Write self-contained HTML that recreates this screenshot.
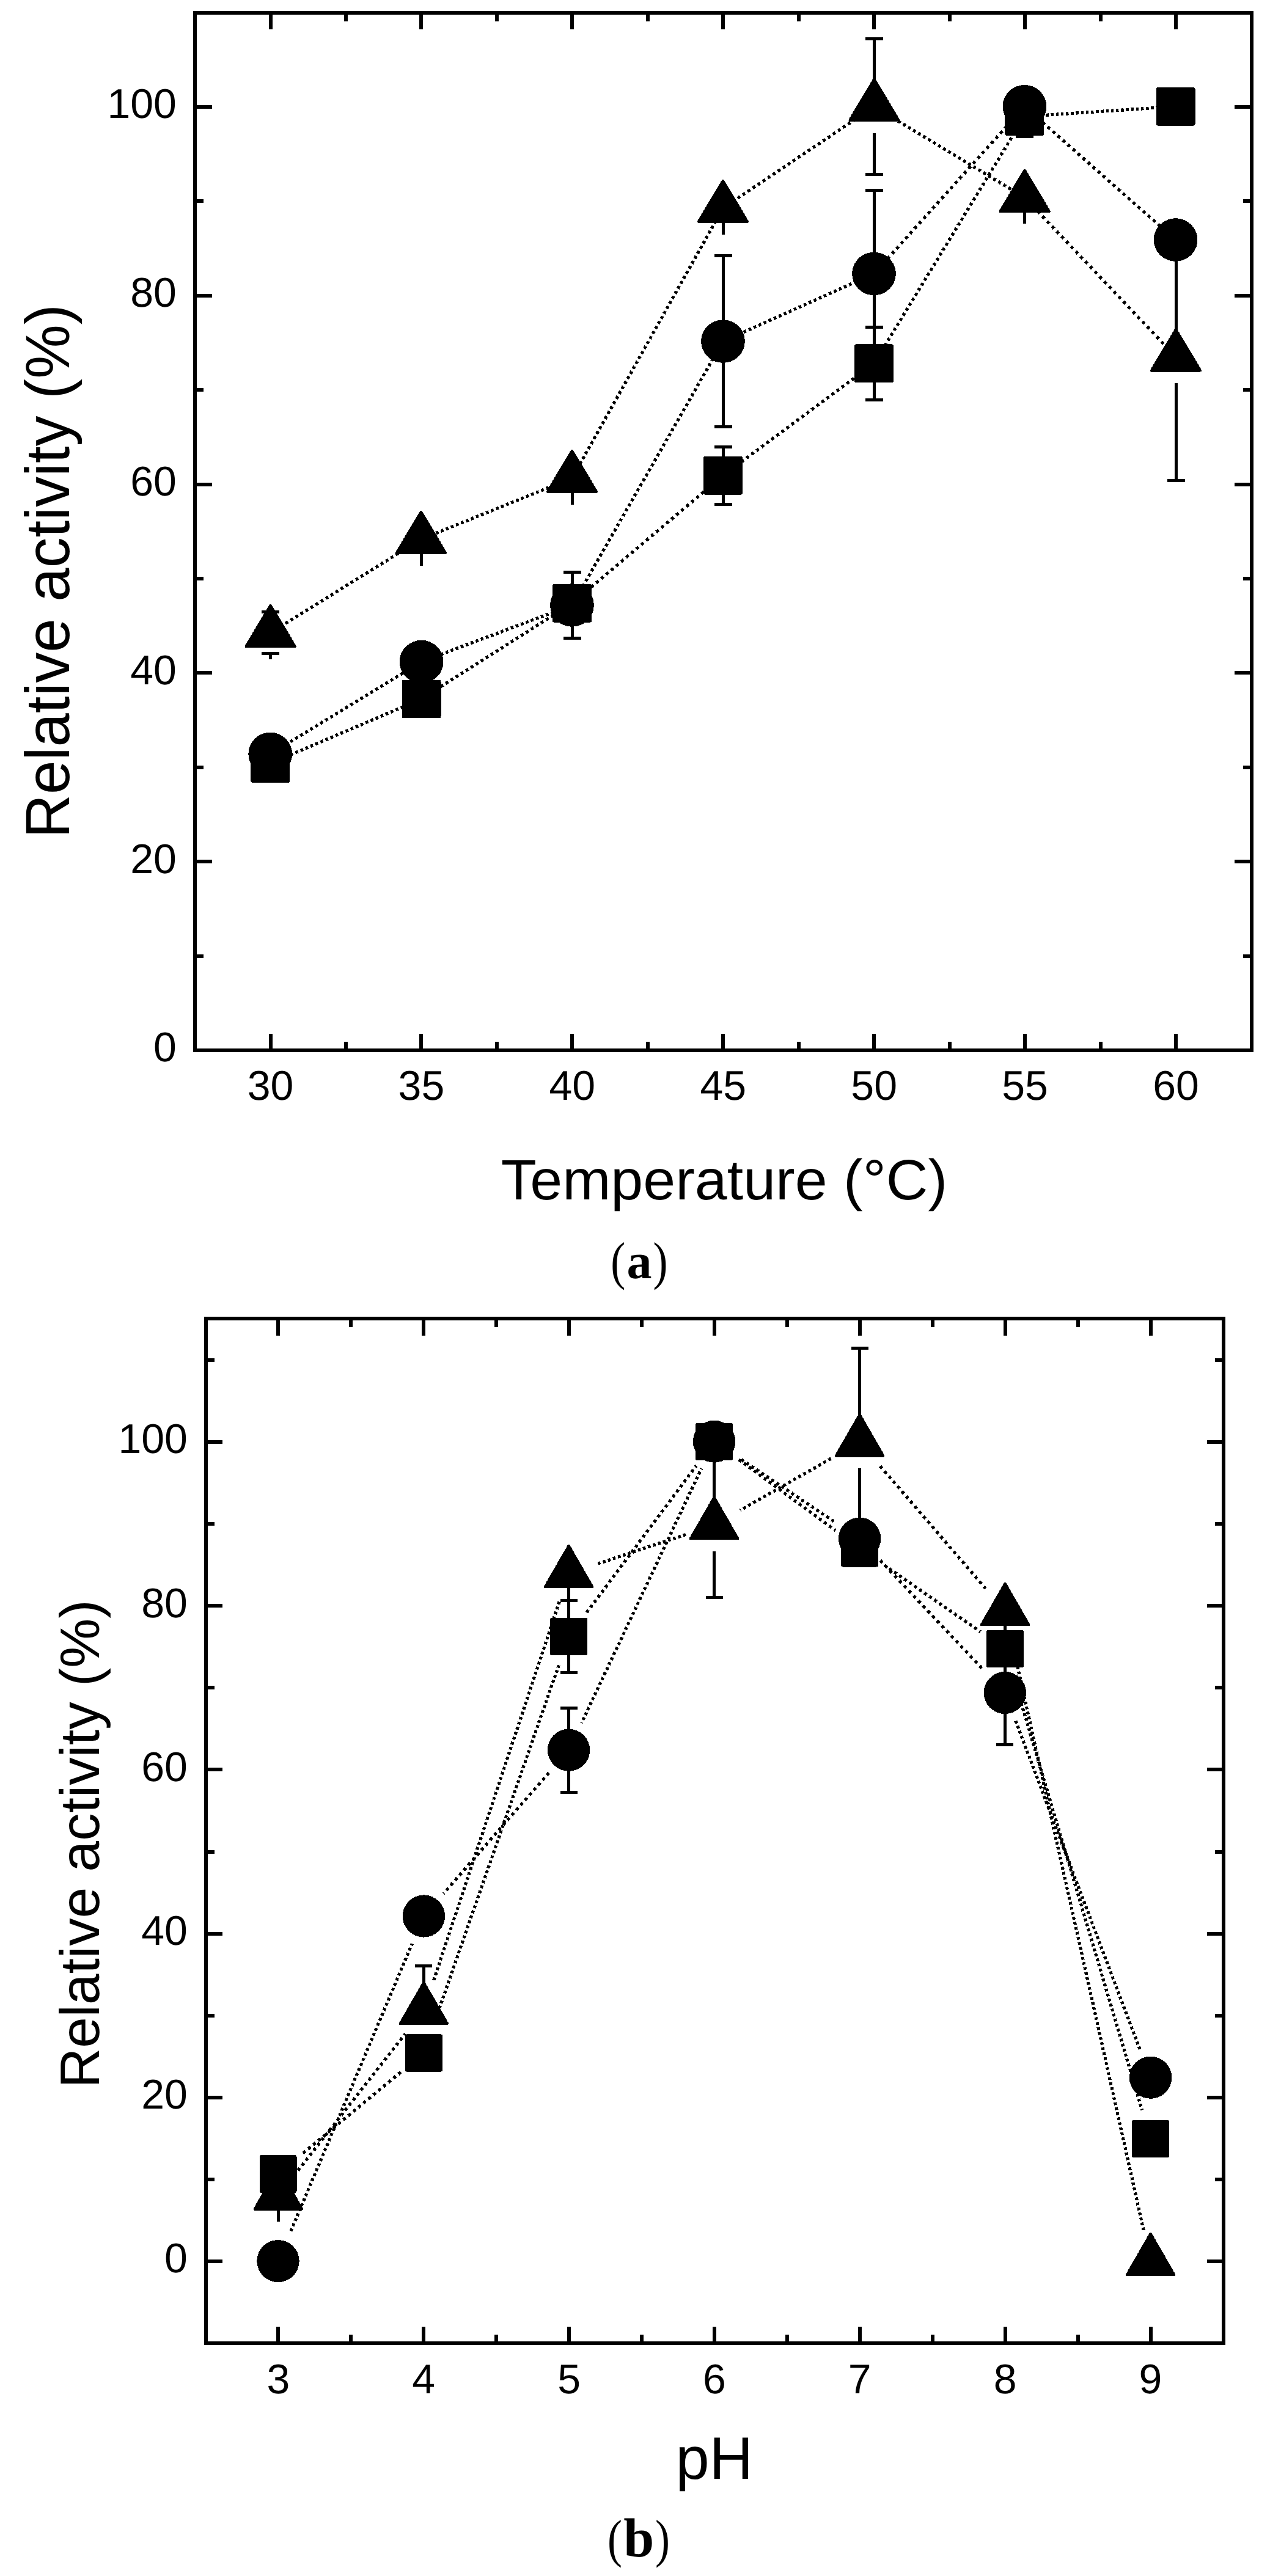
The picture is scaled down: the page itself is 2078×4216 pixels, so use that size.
<!DOCTYPE html>
<html><head><meta charset="utf-8"><title>Figure</title>
<style>html,body{margin:0;padding:0;background:#fff}svg{display:block}text{font-family:"Liberation Sans", Arial, Helvetica, sans-serif;fill:#000}text.cap{font-family:"Liberation Serif", "Times New Roman", serif}</style>
</head><body>
<svg width="2078" height="4216" viewBox="0 0 2078 4216" shape-rendering="crispEdges" text-rendering="geometricPrecision">
<rect width="2078" height="4216" fill="#fff"/>
<line x1="442.30" y1="1249.50" x2="689.50" y2="1144.00" stroke="#000" stroke-width="5.2" stroke-dasharray="4.59 4.33" stroke-dashoffset="0.00"/>
<line x1="689.50" y1="1144.00" x2="936.00" y2="987.40" stroke="#000" stroke-width="5.2" stroke-dasharray="4.79 4.93" stroke-dashoffset="1.42"/>
<line x1="936.00" y1="987.40" x2="1183.00" y2="778.30" stroke="#000" stroke-width="5.2" stroke-dasharray="5.04 5.71" stroke-dashoffset="2.23"/>
<line x1="1183.00" y1="778.30" x2="1430.00" y2="594.70" stroke="#000" stroke-width="5.2" stroke-dasharray="4.91 5.31" stroke-dashoffset="3.36"/>
<line x1="1430.00" y1="594.70" x2="1676.40" y2="190.60" stroke="#000" stroke-width="5.2" stroke-dasharray="4.76 4.84" stroke-dashoffset="4.33"/>
<line x1="1676.40" y1="190.60" x2="1923.50" y2="174.30" stroke="#000" stroke-width="5.2" stroke-dasharray="4.40 3.81" stroke-dashoffset="6.01"/>
<line x1="442.20" y1="1234.00" x2="689.60" y2="1083.00" stroke="#000" stroke-width="5.2" stroke-dasharray="4.76 4.84" stroke-dashoffset="0.00"/>
<line x1="689.60" y1="1083.00" x2="936.00" y2="990.50" stroke="#000" stroke-width="5.2" stroke-dasharray="4.55 4.21" stroke-dashoffset="1.50"/>
<line x1="936.00" y1="990.50" x2="1183.00" y2="558.60" stroke="#000" stroke-width="5.2" stroke-dasharray="4.72 4.72" stroke-dashoffset="2.07"/>
<line x1="1183.00" y1="558.60" x2="1430.00" y2="448.00" stroke="#000" stroke-width="5.2" stroke-dasharray="4.61 4.38" stroke-dashoffset="8.00"/>
<line x1="1430.00" y1="448.00" x2="1676.40" y2="174.30" stroke="#000" stroke-width="5.2" stroke-dasharray="5.10 5.93" stroke-dashoffset="0.13"/>
<line x1="1676.40" y1="174.30" x2="1923.60" y2="392.50" stroke="#000" stroke-width="5.2" stroke-dasharray="5.08 5.86" stroke-dashoffset="4.27"/>
<line x1="442.60" y1="1035.50" x2="689.00" y2="882.50" stroke="#000" stroke-width="5.2" stroke-dasharray="4.77 4.88" stroke-dashoffset="0.00"/>
<line x1="689.00" y1="882.50" x2="936.00" y2="782.50" stroke="#000" stroke-width="5.2" stroke-dasharray="4.57 4.28" stroke-dashoffset="0.43"/>
<line x1="936.00" y1="782.50" x2="1183.00" y2="340.50" stroke="#000" stroke-width="5.2" stroke-dasharray="4.71 4.68" stroke-dashoffset="1.60"/>
<line x1="1183.00" y1="340.50" x2="1430.40" y2="174.50" stroke="#000" stroke-width="5.2" stroke-dasharray="4.83 5.05" stroke-dashoffset="0.72"/>
<line x1="1430.40" y1="174.50" x2="1676.60" y2="323.40" stroke="#000" stroke-width="5.2" stroke-dasharray="4.76 4.83" stroke-dashoffset="2.34"/>
<line x1="1676.60" y1="323.40" x2="1924.00" y2="584.00" stroke="#000" stroke-width="5.2" stroke-dasharray="5.17 6.14" stroke-dashoffset="3.03"/>
<line x1="1183.00" y1="778.30" x2="1183.00" y2="731.20" stroke="#000" stroke-width="5" />
<line x1="1168.50" y1="731.20" x2="1197.50" y2="731.20" stroke="#000" stroke-width="5" />
<line x1="1183.00" y1="778.30" x2="1183.00" y2="825.40" stroke="#000" stroke-width="5" />
<line x1="1168.50" y1="825.40" x2="1197.50" y2="825.40" stroke="#000" stroke-width="5" />
<line x1="1430.00" y1="594.70" x2="1430.00" y2="535.30" stroke="#000" stroke-width="5" />
<line x1="1415.50" y1="535.30" x2="1444.50" y2="535.30" stroke="#000" stroke-width="5" />
<line x1="1430.00" y1="594.70" x2="1430.00" y2="654.10" stroke="#000" stroke-width="5" />
<line x1="1415.50" y1="654.10" x2="1444.50" y2="654.10" stroke="#000" stroke-width="5" />
<line x1="1676.40" y1="190.60" x2="1676.40" y2="157.90" stroke="#000" stroke-width="5" />
<line x1="1661.90" y1="157.90" x2="1690.90" y2="157.90" stroke="#000" stroke-width="5" />
<line x1="1676.40" y1="190.60" x2="1676.40" y2="223.30" stroke="#000" stroke-width="5" />
<line x1="1661.90" y1="223.30" x2="1690.90" y2="223.30" stroke="#000" stroke-width="5" />
<rect x="410.30" y="1218.15" width="64" height="62.7" rx="3" fill="#000"/>
<rect x="657.50" y="1112.65" width="64" height="62.7" rx="3" fill="#000"/>
<rect x="904.00" y="956.05" width="64" height="62.7" rx="3" fill="#000"/>
<rect x="1151.00" y="746.95" width="64" height="62.7" rx="3" fill="#000"/>
<rect x="1398.00" y="563.35" width="64" height="62.7" rx="3" fill="#000"/>
<rect x="1644.40" y="159.25" width="64" height="62.7" rx="3" fill="#000"/>
<rect x="1891.50" y="142.95" width="64" height="62.7" rx="3" fill="#000"/>
<line x1="936.00" y1="990.50" x2="936.00" y2="936.50" stroke="#000" stroke-width="5" />
<line x1="921.50" y1="936.50" x2="950.50" y2="936.50" stroke="#000" stroke-width="5" />
<line x1="936.00" y1="990.50" x2="936.00" y2="1044.50" stroke="#000" stroke-width="5" />
<line x1="921.50" y1="1044.50" x2="950.50" y2="1044.50" stroke="#000" stroke-width="5" />
<line x1="1183.00" y1="558.60" x2="1183.00" y2="418.70" stroke="#000" stroke-width="5" />
<line x1="1168.50" y1="418.70" x2="1197.50" y2="418.70" stroke="#000" stroke-width="5" />
<line x1="1183.00" y1="558.60" x2="1183.00" y2="698.50" stroke="#000" stroke-width="5" />
<line x1="1168.50" y1="698.50" x2="1197.50" y2="698.50" stroke="#000" stroke-width="5" />
<line x1="1430.00" y1="448.00" x2="1430.00" y2="311.50" stroke="#000" stroke-width="5" />
<line x1="1415.50" y1="311.50" x2="1444.50" y2="311.50" stroke="#000" stroke-width="5" />
<line x1="1430.00" y1="448.00" x2="1430.00" y2="584.50" stroke="#000" stroke-width="5" />
<line x1="1415.50" y1="584.50" x2="1444.50" y2="584.50" stroke="#000" stroke-width="5" />
<ellipse cx="442.20" cy="1234.00" rx="35.9" ry="35.3" fill="#000"/>
<ellipse cx="689.60" cy="1083.00" rx="35.9" ry="35.3" fill="#000"/>
<ellipse cx="936.00" cy="990.50" rx="35.9" ry="35.3" fill="#000"/>
<ellipse cx="1183.00" cy="558.60" rx="35.9" ry="35.3" fill="#000"/>
<ellipse cx="1430.00" cy="448.00" rx="35.9" ry="35.3" fill="#000"/>
<ellipse cx="1676.40" cy="174.30" rx="35.9" ry="35.3" fill="#000"/>
<ellipse cx="1923.60" cy="392.50" rx="35.9" ry="35.3" fill="#000"/>
<line x1="442.60" y1="992.50" x2="442.60" y2="1001.60" stroke="#000" stroke-width="5" />
<line x1="428.10" y1="1001.60" x2="457.10" y2="1001.60" stroke="#000" stroke-width="5" />
<line x1="442.60" y1="1078.50" x2="442.60" y2="1069.40" stroke="#000" stroke-width="5" />
<line x1="428.10" y1="1069.40" x2="457.10" y2="1069.40" stroke="#000" stroke-width="5" />
<line x1="689.00" y1="839.50" x2="689.00" y2="868.50" stroke="#000" stroke-width="5" />
<line x1="674.50" y1="868.50" x2="703.50" y2="868.50" stroke="#000" stroke-width="5" />
<line x1="689.00" y1="925.50" x2="689.00" y2="896.50" stroke="#000" stroke-width="5" />
<line x1="674.50" y1="896.50" x2="703.50" y2="896.50" stroke="#000" stroke-width="5" />
<line x1="936.00" y1="739.50" x2="936.00" y2="768.50" stroke="#000" stroke-width="5" />
<line x1="921.50" y1="768.50" x2="950.50" y2="768.50" stroke="#000" stroke-width="5" />
<line x1="936.00" y1="825.50" x2="936.00" y2="796.50" stroke="#000" stroke-width="5" />
<line x1="921.50" y1="796.50" x2="950.50" y2="796.50" stroke="#000" stroke-width="5" />
<line x1="1183.00" y1="297.50" x2="1183.00" y2="326.50" stroke="#000" stroke-width="5" />
<line x1="1168.50" y1="326.50" x2="1197.50" y2="326.50" stroke="#000" stroke-width="5" />
<line x1="1183.00" y1="383.50" x2="1183.00" y2="354.50" stroke="#000" stroke-width="5" />
<line x1="1168.50" y1="354.50" x2="1197.50" y2="354.50" stroke="#000" stroke-width="5" />
<line x1="1430.40" y1="131.50" x2="1430.40" y2="63.55" stroke="#000" stroke-width="5" />
<line x1="1415.90" y1="63.55" x2="1444.90" y2="63.55" stroke="#000" stroke-width="5" />
<line x1="1430.40" y1="217.50" x2="1430.40" y2="285.45" stroke="#000" stroke-width="5" />
<line x1="1415.90" y1="285.45" x2="1444.90" y2="285.45" stroke="#000" stroke-width="5" />
<line x1="1676.60" y1="280.40" x2="1676.60" y2="309.40" stroke="#000" stroke-width="5" />
<line x1="1662.10" y1="309.40" x2="1691.10" y2="309.40" stroke="#000" stroke-width="5" />
<line x1="1676.60" y1="366.40" x2="1676.60" y2="337.40" stroke="#000" stroke-width="5" />
<line x1="1662.10" y1="337.40" x2="1691.10" y2="337.40" stroke="#000" stroke-width="5" />
<line x1="1924.00" y1="541.00" x2="1924.00" y2="381.50" stroke="#000" stroke-width="5" />
<line x1="1909.50" y1="381.50" x2="1938.50" y2="381.50" stroke="#000" stroke-width="5" />
<line x1="1924.00" y1="627.00" x2="1924.00" y2="786.50" stroke="#000" stroke-width="5" />
<line x1="1909.50" y1="786.50" x2="1938.50" y2="786.50" stroke="#000" stroke-width="5" />
<polygon points="442.60,991.50 482.10,1057.70 403.10,1057.70" fill="#000" stroke="#000" stroke-width="5" stroke-linejoin="round"/>
<polygon points="689.00,838.50 728.50,904.70 649.50,904.70" fill="#000" stroke="#000" stroke-width="5" stroke-linejoin="round"/>
<polygon points="936.00,738.50 975.50,804.70 896.50,804.70" fill="#000" stroke="#000" stroke-width="5" stroke-linejoin="round"/>
<polygon points="1183.00,296.50 1222.50,362.70 1143.50,362.70" fill="#000" stroke="#000" stroke-width="5" stroke-linejoin="round"/>
<polygon points="1430.40,130.50 1469.90,196.70 1390.90,196.70" fill="#000" stroke="#000" stroke-width="5" stroke-linejoin="round"/>
<polygon points="1676.60,279.40 1716.10,345.60 1637.10,345.60" fill="#000" stroke="#000" stroke-width="5" stroke-linejoin="round"/>
<polygon points="1924.00,540.00 1963.50,606.20 1884.50,606.20" fill="#000" stroke="#000" stroke-width="5" stroke-linejoin="round"/>
<rect x="319" y="20.5" width="1728.5" height="1698.5" fill="none" stroke="#000" stroke-width="6"/>
<line x1="442.50" y1="1719.00" x2="442.50" y2="1691.50" stroke="#000" stroke-width="6" />
<line x1="442.50" y1="20.50" x2="442.50" y2="48.00" stroke="#000" stroke-width="6" />
<line x1="565.96" y1="1719.00" x2="565.96" y2="1705.00" stroke="#000" stroke-width="6" />
<line x1="565.96" y1="20.50" x2="565.96" y2="34.50" stroke="#000" stroke-width="6" />
<line x1="689.42" y1="1719.00" x2="689.42" y2="1691.50" stroke="#000" stroke-width="6" />
<line x1="689.42" y1="20.50" x2="689.42" y2="48.00" stroke="#000" stroke-width="6" />
<line x1="812.87" y1="1719.00" x2="812.87" y2="1705.00" stroke="#000" stroke-width="6" />
<line x1="812.87" y1="20.50" x2="812.87" y2="34.50" stroke="#000" stroke-width="6" />
<line x1="936.33" y1="1719.00" x2="936.33" y2="1691.50" stroke="#000" stroke-width="6" />
<line x1="936.33" y1="20.50" x2="936.33" y2="48.00" stroke="#000" stroke-width="6" />
<line x1="1059.79" y1="1719.00" x2="1059.79" y2="1705.00" stroke="#000" stroke-width="6" />
<line x1="1059.79" y1="20.50" x2="1059.79" y2="34.50" stroke="#000" stroke-width="6" />
<line x1="1183.25" y1="1719.00" x2="1183.25" y2="1691.50" stroke="#000" stroke-width="6" />
<line x1="1183.25" y1="20.50" x2="1183.25" y2="48.00" stroke="#000" stroke-width="6" />
<line x1="1306.71" y1="1719.00" x2="1306.71" y2="1705.00" stroke="#000" stroke-width="6" />
<line x1="1306.71" y1="20.50" x2="1306.71" y2="34.50" stroke="#000" stroke-width="6" />
<line x1="1430.17" y1="1719.00" x2="1430.17" y2="1691.50" stroke="#000" stroke-width="6" />
<line x1="1430.17" y1="20.50" x2="1430.17" y2="48.00" stroke="#000" stroke-width="6" />
<line x1="1553.62" y1="1719.00" x2="1553.62" y2="1705.00" stroke="#000" stroke-width="6" />
<line x1="1553.62" y1="20.50" x2="1553.62" y2="34.50" stroke="#000" stroke-width="6" />
<line x1="1677.08" y1="1719.00" x2="1677.08" y2="1691.50" stroke="#000" stroke-width="6" />
<line x1="1677.08" y1="20.50" x2="1677.08" y2="48.00" stroke="#000" stroke-width="6" />
<line x1="1800.54" y1="1719.00" x2="1800.54" y2="1705.00" stroke="#000" stroke-width="6" />
<line x1="1800.54" y1="20.50" x2="1800.54" y2="34.50" stroke="#000" stroke-width="6" />
<line x1="1924.00" y1="1719.00" x2="1924.00" y2="1691.50" stroke="#000" stroke-width="6" />
<line x1="1924.00" y1="20.50" x2="1924.00" y2="48.00" stroke="#000" stroke-width="6" />
<line x1="319.00" y1="1564.60" x2="333.00" y2="1564.60" stroke="#000" stroke-width="6" />
<line x1="2047.50" y1="1564.60" x2="2033.50" y2="1564.60" stroke="#000" stroke-width="6" />
<line x1="319.00" y1="1410.20" x2="346.50" y2="1410.20" stroke="#000" stroke-width="6" />
<line x1="2047.50" y1="1410.20" x2="2020.00" y2="1410.20" stroke="#000" stroke-width="6" />
<line x1="319.00" y1="1255.80" x2="333.00" y2="1255.80" stroke="#000" stroke-width="6" />
<line x1="2047.50" y1="1255.80" x2="2033.50" y2="1255.80" stroke="#000" stroke-width="6" />
<line x1="319.00" y1="1101.40" x2="346.50" y2="1101.40" stroke="#000" stroke-width="6" />
<line x1="2047.50" y1="1101.40" x2="2020.00" y2="1101.40" stroke="#000" stroke-width="6" />
<line x1="319.00" y1="947.00" x2="333.00" y2="947.00" stroke="#000" stroke-width="6" />
<line x1="2047.50" y1="947.00" x2="2033.50" y2="947.00" stroke="#000" stroke-width="6" />
<line x1="319.00" y1="792.60" x2="346.50" y2="792.60" stroke="#000" stroke-width="6" />
<line x1="2047.50" y1="792.60" x2="2020.00" y2="792.60" stroke="#000" stroke-width="6" />
<line x1="319.00" y1="638.20" x2="333.00" y2="638.20" stroke="#000" stroke-width="6" />
<line x1="2047.50" y1="638.20" x2="2033.50" y2="638.20" stroke="#000" stroke-width="6" />
<line x1="319.00" y1="483.80" x2="346.50" y2="483.80" stroke="#000" stroke-width="6" />
<line x1="2047.50" y1="483.80" x2="2020.00" y2="483.80" stroke="#000" stroke-width="6" />
<line x1="319.00" y1="329.40" x2="333.00" y2="329.40" stroke="#000" stroke-width="6" />
<line x1="2047.50" y1="329.40" x2="2033.50" y2="329.40" stroke="#000" stroke-width="6" />
<line x1="319.00" y1="175.00" x2="346.50" y2="175.00" stroke="#000" stroke-width="6" />
<line x1="2047.50" y1="175.00" x2="2020.00" y2="175.00" stroke="#000" stroke-width="6" />
<text x="442.50" y="1800" font-size="68" text-anchor="middle">30</text>
<text x="689.42" y="1800" font-size="68" text-anchor="middle">35</text>
<text x="936.33" y="1800" font-size="68" text-anchor="middle">40</text>
<text x="1183.25" y="1800" font-size="68" text-anchor="middle">45</text>
<text x="1430.17" y="1800" font-size="68" text-anchor="middle">50</text>
<text x="1677.08" y="1800" font-size="68" text-anchor="middle">55</text>
<text x="1924.00" y="1800" font-size="68" text-anchor="middle">60</text>
<text x="288.9" y="1737.30" font-size="68" text-anchor="end">0</text>
<text x="288.9" y="1428.50" font-size="68" text-anchor="end">20</text>
<text x="288.9" y="1119.70" font-size="68" text-anchor="end">40</text>
<text x="288.9" y="810.90" font-size="68" text-anchor="end">60</text>
<text x="288.9" y="502.10" font-size="68" text-anchor="end">80</text>
<text x="288.9" y="193.30" font-size="68" text-anchor="end">100</text>
<text transform="translate(1184.9,1962.7) scale(1.0227,1)" font-size="93" text-anchor="middle">Temperature (°C)</text>
<text transform="translate(113.4,935) rotate(-90) scale(0.9757,1)" font-size="102" text-anchor="middle">Relative activity (%)</text>
<text class="cap" transform="translate(1011.2,2092.7) scale(1,1.2)" font-size="72" text-anchor="middle">(</text>
<text class="cap" transform="translate(1080.4,2092.7) scale(1,1.2)" font-size="72" text-anchor="middle">)</text>
<text class="cap" x="1046.0" y="2091.8" font-size="82" font-weight="bold" text-anchor="middle">a</text>
<line x1="485.65" y1="3554.75" x2="663.15" y2="3328.55" stroke="#000" stroke-width="5.2" stroke-dasharray="4.96 5.46" stroke-dashoffset="7.31"/>
<line x1="708.83" y1="3243.49" x2="915.17" y2="2621.51" stroke="#000" stroke-width="5.2" stroke-dasharray="4.52 4.12" stroke-dashoffset="5.70"/>
<line x1="977.10" y1="2559.56" x2="1122.10" y2="2511.44" stroke="#000" stroke-width="5.2" stroke-dasharray="4.52 4.12" stroke-dashoffset="7.38"/>
<line x1="1211.18" y1="2471.76" x2="1364.02" y2="2384.74" stroke="#000" stroke-width="5.2" stroke-dasharray="4.72 4.72" stroke-dashoffset="3.78"/>
<line x1="1438.57" y1="2397.64" x2="1612.63" y2="2599.86" stroke="#000" stroke-width="5.2" stroke-dasharray="5.05 5.77" stroke-dashoffset="8.23"/>
<line x1="1655.30" y1="2684.82" x2="1871.90" y2="3653.18" stroke="#000" stroke-width="5.2" stroke-dasharray="4.45 3.95" stroke-dashoffset="6.58"/>
<line x1="492.70" y1="3526.70" x2="655.80" y2="3391.30" stroke="#000" stroke-width="5.2" stroke-dasharray="5.02 5.64" stroke-dashoffset="6.37"/>
<line x1="709.60" y1="3313.72" x2="914.60" y2="2724.58" stroke="#000" stroke-width="5.2" stroke-dasharray="4.53 4.15" stroke-dashoffset="6.33"/>
<line x1="960.01" y1="2639.04" x2="1139.39" y2="2398.76" stroke="#000" stroke-width="5.2" stroke-dasharray="4.92 5.32" stroke-dashoffset="0.08"/>
<line x1="1208.23" y1="2388.46" x2="1367.07" y2="2504.84" stroke="#000" stroke-width="5.2" stroke-dasharray="4.90 5.27" stroke-dashoffset="9.33"/>
<line x1="1446.90" y1="2561.68" x2="1604.20" y2="2670.52" stroke="#000" stroke-width="5.2" stroke-dasharray="4.85 5.12" stroke-dashoffset="0.24"/>
<line x1="1658.45" y1="2745.37" x2="1868.65" y2="3453.43" stroke="#000" stroke-width="5.2" stroke-dasharray="4.49 4.06" stroke-dashoffset="7.27"/>
<line x1="474.06" y1="3655.46" x2="674.34" y2="3181.14" stroke="#000" stroke-width="5.2" stroke-dasharray="4.58 4.32" stroke-dashoffset="4.49"/>
<line x1="725.62" y1="3099.08" x2="898.38" y2="2901.12" stroke="#000" stroke-width="5.2" stroke-dasharray="5.07 5.81" stroke-dashoffset="3.87"/>
<line x1="951.49" y1="2819.88" x2="1147.71" y2="2403.52" stroke="#000" stroke-width="5.2" stroke-dasharray="4.63 4.44" stroke-dashoffset="3.67"/>
<line x1="1209.35" y1="2386.41" x2="1365.85" y2="2490.89" stroke="#000" stroke-width="5.2" stroke-dasharray="4.82 5.03" stroke-dashoffset="5.47"/>
<line x1="1440.20" y1="2553.76" x2="1610.80" y2="2734.84" stroke="#000" stroke-width="5.2" stroke-dasharray="5.16 6.11" stroke-dashoffset="10.81"/>
<line x1="1661.74" y1="2816.33" x2="1865.26" y2="3354.37" stroke="#000" stroke-width="5.2" stroke-dasharray="4.55 4.22" stroke-dashoffset="8.59"/>
<line x1="455.40" y1="3550.80" x2="455.40" y2="3579.30" stroke="#000" stroke-width="5" />
<line x1="441.40" y1="3579.30" x2="469.40" y2="3579.30" stroke="#000" stroke-width="5" />
<line x1="455.40" y1="3635.80" x2="455.40" y2="3607.30" stroke="#000" stroke-width="5" />
<line x1="441.40" y1="3607.30" x2="469.40" y2="3607.30" stroke="#000" stroke-width="5" />
<line x1="693.40" y1="3247.50" x2="693.40" y2="3217.50" stroke="#000" stroke-width="5" />
<line x1="679.40" y1="3217.50" x2="707.40" y2="3217.50" stroke="#000" stroke-width="5" />
<line x1="693.40" y1="3332.50" x2="693.40" y2="3362.50" stroke="#000" stroke-width="5" />
<line x1="679.40" y1="3362.50" x2="707.40" y2="3362.50" stroke="#000" stroke-width="5" />
<line x1="930.60" y1="2532.50" x2="930.60" y2="2561.00" stroke="#000" stroke-width="5" />
<line x1="916.60" y1="2561.00" x2="944.60" y2="2561.00" stroke="#000" stroke-width="5" />
<line x1="930.60" y1="2617.50" x2="930.60" y2="2589.00" stroke="#000" stroke-width="5" />
<line x1="916.60" y1="2589.00" x2="944.60" y2="2589.00" stroke="#000" stroke-width="5" />
<line x1="1168.60" y1="2453.50" x2="1168.60" y2="2377.70" stroke="#000" stroke-width="5" />
<line x1="1154.60" y1="2377.70" x2="1182.60" y2="2377.70" stroke="#000" stroke-width="5" />
<line x1="1168.60" y1="2538.50" x2="1168.60" y2="2614.30" stroke="#000" stroke-width="5" />
<line x1="1154.60" y1="2614.30" x2="1182.60" y2="2614.30" stroke="#000" stroke-width="5" />
<line x1="1406.60" y1="2318.00" x2="1406.60" y2="2206.40" stroke="#000" stroke-width="5" />
<line x1="1392.60" y1="2206.40" x2="1420.60" y2="2206.40" stroke="#000" stroke-width="5" />
<line x1="1406.60" y1="2403.00" x2="1406.60" y2="2514.60" stroke="#000" stroke-width="5" />
<line x1="1392.60" y1="2514.60" x2="1420.60" y2="2514.60" stroke="#000" stroke-width="5" />
<line x1="1644.60" y1="2594.50" x2="1644.60" y2="2623.00" stroke="#000" stroke-width="5" />
<line x1="1630.60" y1="2623.00" x2="1658.60" y2="2623.00" stroke="#000" stroke-width="5" />
<line x1="1644.60" y1="2679.50" x2="1644.60" y2="2651.00" stroke="#000" stroke-width="5" />
<line x1="1630.60" y1="2651.00" x2="1658.60" y2="2651.00" stroke="#000" stroke-width="5" />
<polygon points="455.40,3549.00 493.50,3615.20 417.30,3615.20" fill="#000" stroke="#000" stroke-width="5" stroke-linejoin="round"/>
<polygon points="693.40,3245.70 731.50,3311.90 655.30,3311.90" fill="#000" stroke="#000" stroke-width="5" stroke-linejoin="round"/>
<polygon points="930.60,2530.70 968.70,2596.90 892.50,2596.90" fill="#000" stroke="#000" stroke-width="5" stroke-linejoin="round"/>
<polygon points="1168.60,2451.70 1206.70,2517.90 1130.50,2517.90" fill="#000" stroke="#000" stroke-width="5" stroke-linejoin="round"/>
<polygon points="1406.60,2316.20 1444.70,2382.40 1368.50,2382.40" fill="#000" stroke="#000" stroke-width="5" stroke-linejoin="round"/>
<polygon points="1644.60,2592.70 1682.70,2658.90 1606.50,2658.90" fill="#000" stroke="#000" stroke-width="5" stroke-linejoin="round"/>
<polygon points="1882.60,3656.70 1920.70,3722.90 1844.50,3722.90" fill="#000" stroke="#000" stroke-width="5" stroke-linejoin="round"/>
<line x1="930.70" y1="2678.30" x2="930.70" y2="2619.60" stroke="#000" stroke-width="5" />
<line x1="916.70" y1="2619.60" x2="944.70" y2="2619.60" stroke="#000" stroke-width="5" />
<line x1="930.70" y1="2678.30" x2="930.70" y2="2737.00" stroke="#000" stroke-width="5" />
<line x1="916.70" y1="2737.00" x2="944.70" y2="2737.00" stroke="#000" stroke-width="5" />
<rect x="424.50" y="3527.25" width="61" height="61.5" rx="3" fill="#000"/>
<rect x="663.00" y="3329.25" width="61" height="61.5" rx="3" fill="#000"/>
<rect x="900.20" y="2647.55" width="61" height="61.5" rx="3" fill="#000"/>
<rect x="1138.20" y="2328.75" width="61" height="61.5" rx="3" fill="#000"/>
<rect x="1376.10" y="2503.05" width="61" height="61.5" rx="3" fill="#000"/>
<rect x="1614.00" y="2667.65" width="61" height="61.5" rx="3" fill="#000"/>
<rect x="1852.10" y="3469.65" width="61" height="61.5" rx="3" fill="#000"/>
<line x1="930.60" y1="2864.20" x2="930.60" y2="2795.20" stroke="#000" stroke-width="5" />
<line x1="916.60" y1="2795.20" x2="944.60" y2="2795.20" stroke="#000" stroke-width="5" />
<line x1="930.60" y1="2864.20" x2="930.60" y2="2933.20" stroke="#000" stroke-width="5" />
<line x1="916.60" y1="2933.20" x2="944.60" y2="2933.20" stroke="#000" stroke-width="5" />
<line x1="1644.40" y1="2770.50" x2="1644.40" y2="2686.00" stroke="#000" stroke-width="5" />
<line x1="1630.40" y1="2686.00" x2="1658.40" y2="2686.00" stroke="#000" stroke-width="5" />
<line x1="1644.40" y1="2770.50" x2="1644.40" y2="2855.00" stroke="#000" stroke-width="5" />
<line x1="1630.40" y1="2855.00" x2="1658.40" y2="2855.00" stroke="#000" stroke-width="5" />
<ellipse cx="455.00" cy="3700.60" rx="34.7" ry="34.6" fill="#000"/>
<ellipse cx="693.40" cy="3136.00" rx="34.7" ry="34.6" fill="#000"/>
<ellipse cx="930.60" cy="2864.20" rx="34.7" ry="34.6" fill="#000"/>
<ellipse cx="1168.60" cy="2359.20" rx="34.7" ry="34.6" fill="#000"/>
<ellipse cx="1406.60" cy="2518.10" rx="34.7" ry="34.6" fill="#000"/>
<ellipse cx="1644.40" cy="2770.50" rx="34.7" ry="34.6" fill="#000"/>
<ellipse cx="1882.60" cy="3400.20" rx="34.7" ry="34.6" fill="#000"/>
<rect x="336.6" y="2158.3" width="1665.4" height="1676.6999999999998" fill="none" stroke="#000" stroke-width="6"/>
<line x1="455.30" y1="3835.00" x2="455.30" y2="3807.50" stroke="#000" stroke-width="6" />
<line x1="455.30" y1="2158.30" x2="455.30" y2="2185.80" stroke="#000" stroke-width="6" />
<line x1="574.24" y1="3835.00" x2="574.24" y2="3821.00" stroke="#000" stroke-width="6" />
<line x1="574.24" y1="2158.30" x2="574.24" y2="2172.30" stroke="#000" stroke-width="6" />
<line x1="693.17" y1="3835.00" x2="693.17" y2="3807.50" stroke="#000" stroke-width="6" />
<line x1="693.17" y1="2158.30" x2="693.17" y2="2185.80" stroke="#000" stroke-width="6" />
<line x1="812.11" y1="3835.00" x2="812.11" y2="3821.00" stroke="#000" stroke-width="6" />
<line x1="812.11" y1="2158.30" x2="812.11" y2="2172.30" stroke="#000" stroke-width="6" />
<line x1="931.04" y1="3835.00" x2="931.04" y2="3807.50" stroke="#000" stroke-width="6" />
<line x1="931.04" y1="2158.30" x2="931.04" y2="2185.80" stroke="#000" stroke-width="6" />
<line x1="1049.97" y1="3835.00" x2="1049.97" y2="3821.00" stroke="#000" stroke-width="6" />
<line x1="1049.97" y1="2158.30" x2="1049.97" y2="2172.30" stroke="#000" stroke-width="6" />
<line x1="1168.91" y1="3835.00" x2="1168.91" y2="3807.50" stroke="#000" stroke-width="6" />
<line x1="1168.91" y1="2158.30" x2="1168.91" y2="2185.80" stroke="#000" stroke-width="6" />
<line x1="1287.85" y1="3835.00" x2="1287.85" y2="3821.00" stroke="#000" stroke-width="6" />
<line x1="1287.85" y1="2158.30" x2="1287.85" y2="2172.30" stroke="#000" stroke-width="6" />
<line x1="1406.78" y1="3835.00" x2="1406.78" y2="3807.50" stroke="#000" stroke-width="6" />
<line x1="1406.78" y1="2158.30" x2="1406.78" y2="2185.80" stroke="#000" stroke-width="6" />
<line x1="1525.71" y1="3835.00" x2="1525.71" y2="3821.00" stroke="#000" stroke-width="6" />
<line x1="1525.71" y1="2158.30" x2="1525.71" y2="2172.30" stroke="#000" stroke-width="6" />
<line x1="1644.65" y1="3835.00" x2="1644.65" y2="3807.50" stroke="#000" stroke-width="6" />
<line x1="1644.65" y1="2158.30" x2="1644.65" y2="2185.80" stroke="#000" stroke-width="6" />
<line x1="1763.59" y1="3835.00" x2="1763.59" y2="3821.00" stroke="#000" stroke-width="6" />
<line x1="1763.59" y1="2158.30" x2="1763.59" y2="2172.30" stroke="#000" stroke-width="6" />
<line x1="1882.52" y1="3835.00" x2="1882.52" y2="3807.50" stroke="#000" stroke-width="6" />
<line x1="1882.52" y1="2158.30" x2="1882.52" y2="2185.80" stroke="#000" stroke-width="6" />
<line x1="336.60" y1="3701.00" x2="364.10" y2="3701.00" stroke="#000" stroke-width="6" />
<line x1="2002.00" y1="3701.00" x2="1974.50" y2="3701.00" stroke="#000" stroke-width="6" />
<line x1="336.60" y1="3566.90" x2="350.60" y2="3566.90" stroke="#000" stroke-width="6" />
<line x1="2002.00" y1="3566.90" x2="1988.00" y2="3566.90" stroke="#000" stroke-width="6" />
<line x1="336.60" y1="3432.80" x2="364.10" y2="3432.80" stroke="#000" stroke-width="6" />
<line x1="2002.00" y1="3432.80" x2="1974.50" y2="3432.80" stroke="#000" stroke-width="6" />
<line x1="336.60" y1="3298.70" x2="350.60" y2="3298.70" stroke="#000" stroke-width="6" />
<line x1="2002.00" y1="3298.70" x2="1988.00" y2="3298.70" stroke="#000" stroke-width="6" />
<line x1="336.60" y1="3164.60" x2="364.10" y2="3164.60" stroke="#000" stroke-width="6" />
<line x1="2002.00" y1="3164.60" x2="1974.50" y2="3164.60" stroke="#000" stroke-width="6" />
<line x1="336.60" y1="3030.50" x2="350.60" y2="3030.50" stroke="#000" stroke-width="6" />
<line x1="2002.00" y1="3030.50" x2="1988.00" y2="3030.50" stroke="#000" stroke-width="6" />
<line x1="336.60" y1="2896.40" x2="364.10" y2="2896.40" stroke="#000" stroke-width="6" />
<line x1="2002.00" y1="2896.40" x2="1974.50" y2="2896.40" stroke="#000" stroke-width="6" />
<line x1="336.60" y1="2762.30" x2="350.60" y2="2762.30" stroke="#000" stroke-width="6" />
<line x1="2002.00" y1="2762.30" x2="1988.00" y2="2762.30" stroke="#000" stroke-width="6" />
<line x1="336.60" y1="2628.20" x2="364.10" y2="2628.20" stroke="#000" stroke-width="6" />
<line x1="2002.00" y1="2628.20" x2="1974.50" y2="2628.20" stroke="#000" stroke-width="6" />
<line x1="336.60" y1="2494.10" x2="350.60" y2="2494.10" stroke="#000" stroke-width="6" />
<line x1="2002.00" y1="2494.10" x2="1988.00" y2="2494.10" stroke="#000" stroke-width="6" />
<line x1="336.60" y1="2360.00" x2="364.10" y2="2360.00" stroke="#000" stroke-width="6" />
<line x1="2002.00" y1="2360.00" x2="1974.50" y2="2360.00" stroke="#000" stroke-width="6" />
<line x1="336.60" y1="2225.90" x2="350.60" y2="2225.90" stroke="#000" stroke-width="6" />
<line x1="2002.00" y1="2225.90" x2="1988.00" y2="2225.90" stroke="#000" stroke-width="6" />
<text x="455.30" y="3917" font-size="68" text-anchor="middle">3</text>
<text x="693.17" y="3917" font-size="68" text-anchor="middle">4</text>
<text x="931.04" y="3917" font-size="68" text-anchor="middle">5</text>
<text x="1168.91" y="3917" font-size="68" text-anchor="middle">6</text>
<text x="1406.78" y="3917" font-size="68" text-anchor="middle">7</text>
<text x="1644.65" y="3917" font-size="68" text-anchor="middle">8</text>
<text x="1882.52" y="3917" font-size="68" text-anchor="middle">9</text>
<text x="306.9" y="3719.30" font-size="68" text-anchor="end">0</text>
<text x="306.9" y="3451.10" font-size="68" text-anchor="end">20</text>
<text x="306.9" y="3182.90" font-size="68" text-anchor="end">40</text>
<text x="306.9" y="2914.70" font-size="68" text-anchor="end">60</text>
<text x="306.9" y="2646.50" font-size="68" text-anchor="end">80</text>
<text x="306.9" y="2378.30" font-size="68" text-anchor="end">100</text>
<text transform="translate(1168.8,4057) scale(1.012,1)" font-size="98" text-anchor="middle">pH</text>
<text transform="translate(162.3,3018) rotate(-90) scale(1,1)" font-size="91" text-anchor="middle">Relative activity (%)</text>
<text class="cap" transform="translate(1006.0,4183.7) scale(1,1.2)" font-size="72" text-anchor="middle">(</text>
<text class="cap" transform="translate(1084,4183.7) scale(1,1.2)" font-size="72" text-anchor="middle">)</text>
<text class="cap" x="1045.2" y="4183.6" font-size="90" font-weight="bold" text-anchor="middle">b</text>
</svg>
</body></html>
